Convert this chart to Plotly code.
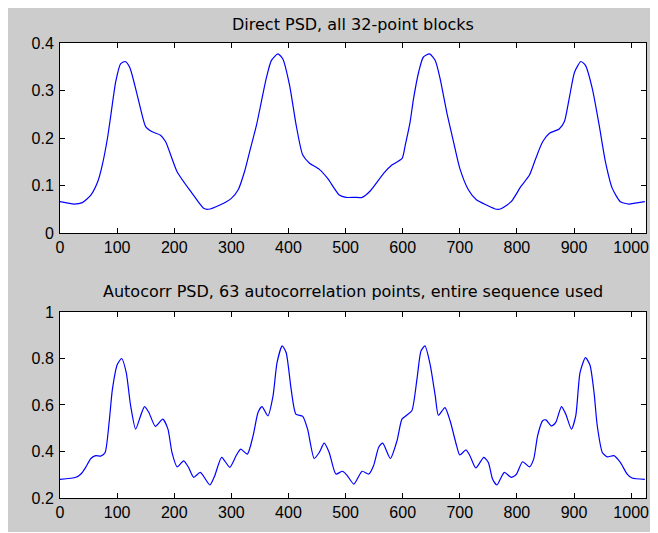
import plotly.graph_objects as go

# ---------------- data ----------------
direct_x = [0, 25, 39, 54, 66, 74, 83, 89, 97.5, 106, 114, 122, 131, 141, 150, 161.5, 176, 185, 205, 231,
            251.5, 259.6, 280, 300, 312, 323, 332, 344, 352.5, 361, 370, 381.5, 390, 402, 413.5, 425, 437,
            454, 468.6, 489, 500.6, 515.7, 529, 543.5, 567, 581, 599, 604.5, 613, 619, 628, 636, 647, 657,
            665.5, 677, 689, 700, 715, 729, 746.5, 764, 772, 790, 807, 822, 833, 845, 857, 874, 883, 891.5,
            901, 912, 920, 932, 944, 955, 967, 981, 996, 1007, 1024]
direct_y = [.066, .061, .064, .080, .108, .143, .199, .248, .318, .356, .361, .349, .311, .262, .224, .213,
            .206, .192, .129, .084, .052, .050, .059, .073, .091, .129, .171, .227, .276, .325, .363, .377,
            .367, .311, .227, .164, .147, .134, .115, .080, .075, .075, .075, .089, .126, .143, .157, .185,
            .234, .283, .339, .370, .377, .363, .325, .255, .192, .136, .091, .070, .059, .050, .051, .066,
            .098, .122, .157, .192, .210, .219, .234, .283, .339, .361, .353, .304, .227, .150, .094, .066,
            .061, .063, .066]

auto_x = [0, 28, 36.6, 45, 54, 62.7, 71.4, 79, 86, 91.8, 100.5, 108, 116, 123.7, 132.4, 141, 148, 155.6,
          167, 180, 189, 196, 205, 216.6, 225, 234, 245.6, 262.5, 271, 283, 297.3, 309, 316.5, 328, 338,
          346.7, 353.6, 364, 373, 380, 389, 396, 404.7, 413, 425, 433.5, 445, 454, 462.6, 471.3, 483,
          494.6, 503, 514.5, 529, 540.6, 549, 558, 565, 578.4, 590, 598.7, 607, 616, 625, 632, 639, 648,
          657, 662.5, 674, 683, 694.5, 700, 710.8, 717.7, 728, 742, 750, 757.3, 765, 778, 789.8, 798.5,
          810, 822, 829.3, 836.2, 845, 850.7, 860.6, 868, 878, 885.5, 895.4, 903, 910.5, 920, 928, 935,
          940.7, 949.5, 958, 969.8, 981, 993, 1001.5, 1024]
auto_y = [.280, .289, .303, .332, .370, .382, .380, .396, .525, .668, .775, .800, .739, .596, .496, .553,
          .593, .568, .508, .539, .496, .396, .334, .360, .332, .289, .310, .256, .296, .375, .332, .385,
          .410, .389, .467, .568, .593, .553, .639, .782, .854, .825, .668, .561, .551, .496, .370, .396,
          .436, .396, .303, .315, .296, .260, .315, .303, .339, .418, .436, .370, .446, .539, .556, .575,
          .711, .832, .854, .775, .639, .556, .589, .532, .424, .385, .407, .382, .329, .375, .353, .282,
          .256, .310, .289, .300, .356, .334, .367, .467, .532, .536, .510, .525, .593, .561, .496, .553,
          .739, .804, .771, .654, .510, .396, .377, .382, .353, .303, .286, .280]

x_ticks = [0, 100, 200, 300, 400, 500, 600, 700, 800, 900, 1000]
top_yticks = [0, 0.1, 0.2, 0.3, 0.4]
top_ylabels = ["0", "0.1", "0.2", "0.3", "0.4"]
bot_yticks = [0.2, 0.4, 0.6, 0.8, 1.0]
bot_ylabels = ["0.2", "0.4", "0.6", "0.8", "1"]

title_top = "Direct PSD, all 32-point blocks"
title_bot = "Autocorr PSD, 63 autocorrelation points, entire sequence used"

# ---------------- figure ----------------
TICKFONT = dict(family="Liberation Sans, Arial, sans-serif", size=16, color="black")
TITLEFONT = dict(family="DejaVu Sans, sans-serif", size=16, color="black")
LINE = dict(color="#0000ff", width=1.2, shape="spline", smoothing=0.6)

fig = go.Figure()
fig.add_trace(go.Scatter(x=direct_x, y=direct_y, mode="lines", line=LINE,
                         xaxis="x", yaxis="y", showlegend=False))
fig.add_trace(go.Scatter(x=auto_x, y=auto_y, mode="lines", line=LINE,
                         xaxis="x2", yaxis="y2", showlegend=False))

ax_common = dict(showgrid=False, zeroline=False, showline=True, linecolor="black", linewidth=1,
                 mirror="ticks", ticks="inside", ticklen=5, tickcolor="black", tickwidth=1,
                 tickfont=TICKFONT)

fig.update_layout(
    width=649, height=524,
    margin=dict(l=52, r=8, t=35, b=34),
    paper_bgcolor="#cccccc", plot_bgcolor="white",
    font=TICKFONT,
    xaxis=dict(domain=[0, 1], range=[0, 1026], tickvals=x_ticks, anchor="y", **ax_common),
    yaxis=dict(domain=[0.5824, 1], range=[0, 0.4], tickvals=top_yticks, ticktext=top_ylabels,
               anchor="x", ticklabelstandoff=2, **ax_common),
    xaxis2=dict(domain=[0, 1], range=[0, 1026], tickvals=x_ticks, anchor="y2", **ax_common),
    yaxis2=dict(domain=[0, 0.4088], range=[0.2, 1.0], tickvals=bot_yticks, ticktext=bot_ylabels,
                anchor="x2", ticklabelstandoff=2, **ax_common),
    annotations=[
        dict(text=title_top, x=0.5, y=1.0407, xref="paper", yref="paper", showarrow=False,
             xanchor="center", yanchor="middle", font=TITLEFONT),
        dict(text=title_bot, x=0.5, y=0.4538, xref="paper", yref="paper", showarrow=False,
             xanchor="center", yanchor="middle", font=TITLEFONT),
    ],
)

fig.write_html("out.html")
